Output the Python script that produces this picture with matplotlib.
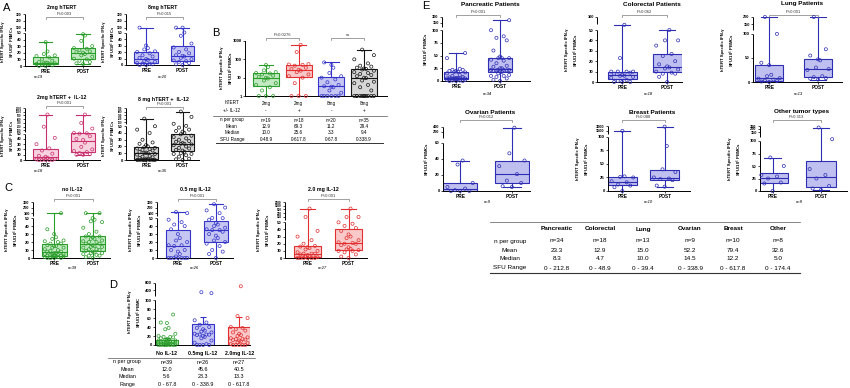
import numpy as np
import matplotlib.pyplot as plt
import matplotlib.transforms as mtransforms
from matplotlib.ticker import NullLocator

plt.rcParams['font.family'] = ['Liberation Sans', 'DejaVu Sans']
plt.rcParams['mathtext.fontset'] = 'custom'
plt.rcParams['mathtext.rm'] = 'Liberation Sans'
plt.rcParams['mathtext.bf'] = 'Liberation Sans:bold'

W, H = 850, 388

########################################################## data (SFU / 10^6 PBMCs)
# A: PRE / POST per arm
a_2mg_pre = [0, 0, 1, 2, 3, 3, 4, 4, 5, 5, 6, 8, 10, 13, 15, 16, 18, 22, 36]
a_2mg_post = [3, 4, 6, 8, 10, 11, 14, 16, 18, 20, 21, 22, 24, 26, 27, 30, 38, 46, 48]
a_8mg_pre = [0, 0, 1, 2, 2, 3, 5, 6, 8, 9, 11, 13, 15, 18, 20, 21, 24, 26, 30, 100]
a_8mg_post = [0, 1, 3, 5, 6, 7, 9, 11, 13, 14, 15, 18, 20, 24, 27, 33, 45, 50, 100, 100]
a_2mg_il12_pre = [0, 0, 0, 0, 0, 1, 2, 3, 4, 6, 8, 12, 18, 22, 30, 42, 200, 620]
a_2mg_il12_post = [10, 10, 11, 13, 15, 17, 20, 25, 33, 38, 40, 45, 50, 55, 60, 150, 300, 620]
a_8mg_il12_pre = [0, 0, 0, 0, 0, 0, 0, 0, 1, 2, 3, 4, 5, 6, 8, 9, 10, 10, 11, 12, 14, 15, 16, 17, 18,
                  19, 20, 22, 24, 26, 30, 40, 45, 50, 200]
a_8mg_il12_post = [0, 1, 2, 5, 7, 9, 9, 10, 12, 14, 15, 17, 18, 20, 22, 23, 24, 24, 25, 27, 28, 30, 32,
                   34, 36, 38, 40, 42, 43, 45, 48, 55, 80, 250, 400]

# B: response per arm (log axis, zeros drawn at 1)
b_2mg_nil = [0, 0, 0, 2, 3, 4, 5, 7, 9, 10, 11, 13, 15, 17, 18, 20, 25, 38, 48.9]
b_2mg_il12 = [0, 0, 0, 5, 10, 12, 15, 20, 24, 27, 30, 35, 45, 50, 52, 55, 250, 617.8]
b_8mg_nil = [0, 0, 0, 0, 0, 1, 1.5, 2, 3, 3.2, 3.4, 4, 5.6, 8, 10, 12, 18, 35, 50, 67.8]
b_8mg_il12 = [0, 0, 0, 0, 0, 0, 0, 0, 0, 0, 1, 2, 3, 4, 5, 6, 7, 9.4, 10, 12, 14, 16, 18, 20, 24, 28,
              30, 32, 35, 40, 45, 60, 100, 169, 338.9]
b_htert = ['2mg', '2mg', '8mg', '8mg']
b_il12 = ['-', '+', '-', '+']
b_n = ['n=19', 'n=18', 'n=20', 'n=35']
b_mean = ['12.9', '69.3', '11.2', '29.4']
b_median = ['10.0', '25.6', '3.3', '9.4']
b_range = ['0-48.9', '0-617.8', '0-67.8', '0-338.9']

# C: by IL-12 dose
c_05_pre = [0, 0, 0, 0, 0, 0, 0, 2, 5, 8, 10, 10, 15, 16, 16, 20, 22, 25, 30, 36, 40, 42, 45, 48, 100, 120]
c_05_post = [0, 5, 8, 10, 15, 18, 20, 22, 25, 28, 30, 33, 35, 35, 36, 38, 40, 42, 44, 48, 50, 52, 100,
             150, 200, 260]
c_20_pre = [0, 0, 0, 0, 0, 0, 1, 2, 3, 4, 5, 6, 6, 6, 8, 10, 12, 14, 15, 16, 17, 20, 25, 30, 38, 100, 620]
c_20_post = [0, 2, 5, 8, 10, 10, 11, 12, 13, 15, 18, 20, 20, 21, 22, 25, 28, 30, 33, 38, 42, 45, 48, 50,
             100, 100, 620]

# D
d_05mg = [0, 0, 0, 0, 2, 5, 10, 15, 18, 20, 22, 23, 23.3, 23.3, 25, 28, 30, 32, 35, 38, 40, 45, 50, 55,
          310, 338.9]
d_20mg = [0, 0, 0, 0, 0, 2, 4, 6, 8, 10, 11, 12, 13, 13.3, 15, 17, 20, 22, 25, 28, 32, 35, 38, 40, 60,
          64.4, 617.8]
d_labels = ['No IL-12', '0.5mg IL-12', '2.0mg IL-12']
d_n = ['n=39', 'n=26', 'n=27']
d_mean = ['12.0', '45.6', '40.5']
d_median = ['5.6', '23.3', '13.3']
d_range = ['0 - 67.8', '0 - 338.9', '0 - 617.8']

# E: by tumour type
e_panc_pre = [0, 0, 0, 1, 1, 2, 2, 3, 3, 4, 4, 5, 5, 5, 5, 5, 5, 6, 6, 7, 8, 10, 12, 15, 17, 18, 18, 20,
              20, 22, 22, 24, 45, 55]
e_panc_post = [0, 2, 5, 8, 10, 10, 12, 15, 18, 20, 20, 21, 21, 22, 22, 22, 22, 25, 25, 28, 30, 35, 40, 42,
               45, 45, 45, 48, 60, 80, 85, 88, 100, 212.8]
e_colo_pre = [0, 0, 0, 1, 2, 4, 5, 6, 6, 7, 8, 9, 10, 10, 10, 10, 23, 70]
e_colo_post = [0, 5, 8, 8, 9, 10, 12, 13, 14, 15, 17, 20, 25, 27, 35, 40, 40, 50]
e_lung_pre = [0, 1, 2, 3, 5, 7, 8, 12, 15, 35, 40, 100, 200]
e_lung_post = [5, 7, 8, 10, 12, 25, 27, 30, 45, 47, 55, 68, 200]
e_ovar_pre = [0, 0, 0, 1, 3, 5, 10, 33, 38]
e_ovar_post = [5, 6, 10, 13, 21, 31, 38, 47, 370]
e_brst_pre = [0, 7, 10, 12, 16, 18, 25, 26, 27, 1500]
e_brst_post = [8, 10, 20, 22, 23, 25, 35, 40, 83, 2800]
e_oth_pre = [0, 15, 17, 25, 29, 32, 50, 67]
e_oth_post = [2, 5, 10, 25, 32, 44, 110, 250]
e_cols = ['Pancreatic', 'Colorectal', 'Lung', 'Ovarian', 'Breast', 'Other']
e_n = ['n=34', 'n=18', 'n=13', 'n=9', 'n=10', 'n=8']
e_mean = ['23.3', '12.9', '15.0', '52.2', '79.4', '32.6']
e_median = ['8.3', '4.7', '10.0', '14.5', '12.2', '5.0']
e_range = ['0 - 212.8', '0 - 48.9', '0 - 39.4', '0 - 338.9', '0 - 617.8', '0 - 174.4']

# colours (edge, fill)
GREEN = ('#2a9d2a', '#c2e9c2')
BLUE = ('#3535c8', '#c6c6f3')
PINK = ('#c8306e', '#f9d2df')
GRAY = ('#151515', '#d6d6d6')
RED = ('#e03030', '#f9c9c9')
EBLUE = ('#2e2eb4', '#c0c0f0')

YLAB = 'hTERT Specific IFN-\u03b3\nSFU/10$^6$ PBMCs'

fig = plt.figure(figsize=(W / 100, H / 100), dpi=100)


def px_rect(l, t, r, b):
    return [l / W, 1 - b / H, (r - l) / W, (b - t) / H]


def fy(y):
    return 1 - y / H


def ftext(x, y, s, **kw):
    fig.text(x / W, fy(y), s, **kw)


def xfig(ax):
    return mtransforms.blended_transform_factory(ax.transData, fig.transFigure)


def jitter(vals, w):
    order = np.argsort(vals, kind='stable')
    pattern = np.array([0, -0.55, 0.55, -0.3, 0.3, -0.75, 0.75, -0.15, 0.15]) * w / 2
    off = np.empty(len(vals))
    off[order] = pattern[np.arange(len(vals)) % len(pattern)]
    return off


def broken_y(ax, low_max, low_ticks, up_ticks, gap, up_h, up_size=3.1):
    # piecewise linear y scale: lower part linear, upper part squeezed
    xp = [0.0, low_max] + list(up_ticks)
    if len(up_ticks) > 1:
        fp = [0.0, 1.0] + [1 + gap + up_h * i / (len(up_ticks) - 1) for i in range(len(up_ticks))]
    else:
        fp = [0.0, 1.0, 1 + gap]
    s = (fp[-1] - fp[-2]) / (xp[-1] - xp[-2])
    top = fp[-1]
    xp = np.array([-low_max] + xp + [xp[-1] * 10])
    fp = np.array([-1.0] + fp + [top + s * xp[-2] * 9])
    ax.set_yscale('function', functions=(lambda v: np.interp(v, xp, fp),
                                         lambda p: np.interp(p, fp, xp)))
    ax.set_ylim(0, up_ticks[-1])
    ticks = list(low_ticks) + list(up_ticks)
    ax.set_yticks(ticks)
    labs = ax.set_yticklabels([f'{t:g}' for t in ticks], fontsize=3.1, fontweight='bold')
    for lab in labs[len(low_ticks):]:
        lab.set_fontsize(up_size)
    ax.yaxis.set_minor_locator(NullLocator())
    ax.spines['left'].set_visible(False)
    kw = dict(transform=ax.transAxes, color='black', lw=0.7, clip_on=False, solid_capstyle='butt')
    ax.plot([0, 0], [0, 1 / top], **kw)
    ax.plot([0, 0], [(1 + gap * 0.45) / top, 1], **kw)


def style(ax, xlim):
    for s in ('top', 'right'):
        ax.spines[s].set_visible(False)
    ax.spines['bottom'].set_linewidth(0.7)
    ax.spines['left'].set_linewidth(0.7)
    ax.tick_params(length=1.6, width=0.5, pad=0.8, labelsize=3.1)
    ax.set_xlim(*xlim)
    ax.patch.set_alpha(0)


def boxes(ax, data, pos, width, colors, log=False):
    for p, vals, (edge, fill) in zip(pos, data, colors):
        v = np.array(vals, float)
        if log:
            v = np.clip(v, 1, None)
        bp = ax.boxplot([v], positions=[p], widths=width, whis=(0, 100), patch_artist=True,
                        showfliers=False, manage_ticks=False, capwidths=width * 0.55)
        for b in bp['boxes']:
            b.set(facecolor=fill, edgecolor=edge, linewidth=0.8)
        for k in ('whiskers', 'caps', 'medians'):
            for ln in bp[k]:
                ln.set(color=edge, linewidth=0.8)
        ax.scatter(p + jitter(v, width), v, s=5, facecolors='none', edgecolors=edge,
                   linewidths=0.5, clip_on=False, zorder=4)


def pre_post(ax, pre, post, color, xlim, width=0.65):
    boxes(ax, [pre, post], [1, 2], width, [color, color])
    style(ax, xlim)
    ax.set_xticks([1, 2])
    ax.set_xticklabels(['PRE', 'POST'], fontsize=3.4, fontweight='bold')


def bracket(ax, y, label, x1=1, x2=2, size=3.0):
    tr = xfig(ax)
    yy = fy(y)
    d = 1.8 / H
    ax.plot([x1, x1, x2, x2], [yy - d, yy, yy, yy - d], transform=tr, color='#7a7a7a', lw=0.5,
            clip_on=False)
    ax.text((x1 + x2) / 2, yy + 0.6 / H, label, transform=tr, ha='center', va='bottom',
            fontsize=size, color='#333333')


def ylab(x, y, s, size=3.1):
    ftext(x, y, s, rotation=90, ha='center', va='center', fontsize=size, fontweight='bold',
          multialignment='center', linespacing=1.3)


#################################################################### panel letters
for lab, x, y in [('A', 7, 8), ('B', 216, 33), ('C', 8, 188), ('D', 113, 285), ('E', 426, 6)]:
    ftext(x, y, lab, fontsize=8, ha='center', va='center')

#################################################################### A
A_XL = (0.45, 2.45)
ax = fig.add_axes(px_rect(25, 14, 100, 66))
pre_post(ax, a_2mg_pre, a_2mg_post, GREEN, A_XL)
broken_y(ax, 50, [0, 10, 20, 30, 40, 50], [100, 200, 300], 0.15, 0.42, 2.4)
bracket(ax, 17, 'P=0.003')
ftext(62, 7, '2mg hTERT', fontsize=3.8, fontweight='bold', ha='center', va='center')
ftext(38, 77, 'n=19', fontsize=3, style='italic', ha='center', va='center')
ylab(9, 42, YLAB, 2.9)

ax = fig.add_axes(px_rect(126, 14, 199, 65))
pre_post(ax, a_8mg_pre, a_8mg_post, BLUE, A_XL)
broken_y(ax, 50, [0, 10, 20, 30, 40, 50], [100, 200, 300], 0.15, 0.42, 2.4)
bracket(ax, 17, 'P=0.015')
ftext(163, 7, '8mg hTERT', fontsize=3.8, fontweight='bold', ha='center', va='center')
ftext(163, 77, 'n=20', fontsize=3, style='italic', ha='center', va='center')
ylab(110, 42, YLAB, 2.9)

ax = fig.add_axes(px_rect(25, 108, 100, 160))
pre_post(ax, a_2mg_il12_pre, a_2mg_il12_post, PINK, A_XL)
broken_y(ax, 50, [0, 10, 20, 30, 40, 50], [100, 200, 300, 400, 500, 1000, 2000], 0.12, 0.85, 1.9)
bracket(ax, 106, 'P<0.001')
ftext(62, 97, '2mg hTERT +  IL-12', fontsize=3.8, fontweight='bold', ha='center', va='center')
ftext(38, 171, 'n=18', fontsize=3, style='italic', ha='center', va='center')
ylab(9, 136, YLAB, 2.9)

ax = fig.add_axes(px_rect(126, 108, 199, 160))
pre_post(ax, a_8mg_il12_pre, a_8mg_il12_post, GRAY, A_XL)
broken_y(ax, 50, [0, 10, 20, 30, 40, 50], [100, 200, 300, 400, 500], 0.12, 0.42, 1.8)
bracket(ax, 107, 'P<0.001')
ftext(163, 99, '8 mg hTERT +  IL-12', fontsize=3.8, fontweight='bold', ha='center', va='center')
ftext(163, 171, 'n=35', fontsize=3, style='italic', ha='center', va='center')
ylab(110, 136, YLAB, 2.9)

#################################################################### B
ax = fig.add_axes(px_rect(245, 41, 387, 96))
ax.set_yscale('log')
boxes(ax, [b_2mg_nil, b_2mg_il12, b_8mg_nil, b_8mg_il12], [1, 2, 3, 4], 0.8,
      [GREEN, RED, BLUE, GRAY], log=True)
style(ax, (0.36, 4.7))
ax.set_ylim(1, 1000)
ax.set_yticks([1, 10, 100, 1000])
ax.set_yticklabels(['1', '10', '100', '1000'], fontsize=3.1, fontweight='bold')
ax.yaxis.set_minor_locator(NullLocator())
ax.set_xticks([])
bracket(ax, 38, 'P=0.0276', 1, 2)
bracket(ax, 38, 'ns', 3, 4)
ylab(228, 68, YLAB)
tr = xfig(ax)
ftext(232, 103, 'hTERT', fontsize=3.3, ha='center', va='center')
ftext(232, 111, '+/- IL-12', fontsize=3.3, ha='center', va='center')
for name, y in [('n per group', 120), ('Mean', 126.5), ('Median', 133), ('SFU Range', 139.5)]:
    ftext(232, y, name, fontsize=3.3, ha='center', va='center')
for row, y in [(b_htert, 103), (b_il12, 111), (b_n, 120), (b_mean, 126.5), (b_median, 133),
               (b_range, 139.5)]:
    for p, s in zip([1, 2, 3, 4], row):
        ax.text(p, fy(y), s, transform=tr, fontsize=3.3, ha='center', va='center')
fig.add_artist(plt.Line2D([213 / W, 387 / W], [fy(116), fy(116)], color='#555555', lw=0.5))
fig.add_artist(plt.Line2D([216 / W, 383 / W], [fy(143), fy(143)], color='#333333', lw=0.7))

#################################################################### C
C_XL = (0.45, 2.45)
c_sets = [
    ((33, 202, 110, 258), a_2mg_pre + a_8mg_pre, a_2mg_post + a_8mg_post, GREEN, [100, 200, 300],
     0.125, 0.28, 2.8, 'no IL-12', 72, 'n=39'),
    ((157, 202, 233, 258), c_05_pre, c_05_post, BLUE, [100, 200, 300], 0.125, 0.28, 2.8,
     '0.5 mg IL-12', 195, 'n=26'),
    ((285, 202, 367, 258), c_20_pre, c_20_post, RED, [100, 200, 500, 1000, 2000], 0.15, 0.42, 2.2,
     '2.0 mg IL-12', 323, 'n=27'),
]
for r, pre, post, col, up, gap, uh, usz, title, tx, nlab in c_sets:
    ax = fig.add_axes(px_rect(*r))
    pre_post(ax, pre, post, col, C_XL)
    broken_y(ax, 50, [0, 10, 20, 30, 40, 50], up, gap, uh, usz)
    bracket(ax, 199, 'P<0.001')
    ftext(tx, 189, title, fontsize=3.8, fontweight='bold', ha='center', va='center')
    ftext(tx, 268, nlab, fontsize=3, style='italic', ha='center', va='center')
    ylab(r[0] - 20, 230, YLAB)

#################################################################### D
d_groups = [b_2mg_nil + b_8mg_nil, d_05mg, d_20mg]
d_cols = [GREEN, BLUE, RED]
ax = fig.add_axes(px_rect(155, 283, 250, 345))
for p, vals, (edge, fill) in zip([1, 2, 3], d_groups, d_cols):
    v = np.array(vals, float)
    m = v.mean()
    sem = v.std(ddof=1) / np.sqrt(len(v))
    ax.bar(p, m, width=0.62, color=fill, edgecolor=edge, linewidth=0.8, zorder=2)
    ax.errorbar(p, m, yerr=[[0], [sem]], fmt='none', ecolor=edge, elinewidth=0.8, capsize=2,
                capthick=0.8, zorder=3)
    ax.scatter(p + jitter(v, 0.62), v, s=5, facecolors='none', edgecolors=edge, linewidths=0.5,
               clip_on=False, zorder=4)
style(ax, (0.67, 3.3))
broken_y(ax, 100, [0, 20, 40, 60, 80, 100], [400, 800], 0.22, 0.16, 3.1)
ax.set_xticks([1, 2, 3])
ax.set_xticklabels(d_labels, fontsize=3.8, fontweight='bold')
ax.tick_params(axis='x', length=0, pad=4)
ylab(136, 312, 'hTERT Specific IFN-\u03b3\nSFU/10$^6$ PBMC')
tr = xfig(ax)
for name, row, y in [('n per group', d_n, 362), ('Mean', d_mean, 369.5), ('Median', d_median, 377),
                     ('Range', d_range, 384.5)]:
    ftext(127, y, name, fontsize=3.9, ha='center', va='center')
    for p, s in zip([1, 2, 3], row):
        ax.text(p, fy(y), s, transform=tr, fontsize=3.9, ha='center', va='center')
fig.add_artist(plt.Line2D([108 / W, 255 / W], [fy(357.5), fy(357.5)], color='#555555', lw=0.5))
fig.add_artist(plt.Line2D([108 / W, 255 / W], [fy(387.5), fy(387.5)], color='#333333', lw=0.7))

#################################################################### E
e_sets = [
    ((442, 17, 530, 81), e_panc_pre, e_panc_post, (0.68, 2.68), 0.55, 100, [0, 25, 50, 75, 100],
     [150, 300], 0.15, 0.11, 'Pancreatic Patients', 490, 4, 'P<0.001', 15, 'n=34', 94),
    ((597, 17, 682, 82), e_colo_pre, e_colo_post, (0.44, 2.33), 0.65, 50, [0, 10, 20, 30, 40, 50],
     [100], 0.25, 0, 'Colorectal Patients', 652, 4, 'P=0.062', 15, 'n=18', 94),
    ((753, 17, 842, 82), e_lung_pre, e_lung_post, (0.67, 2.49), 0.58, 100, [0, 50, 100],
     [150, 200], 0.2, 0.15, 'Lung Patients', 802, 4, 'P<0.001', 15, 'n=13', 94),
    ((443, 127, 530, 191), e_ovar_pre, e_ovar_post, (0.67, 2.35), 0.65, 60, [0, 20, 40, 60],
     [200, 400], 0.23, 0.1, 'Ovarian Patients', 490, 112, 'P=0.012', 120, 'n=9', 202),
    ((608, 126, 690, 191), e_brst_pre, e_brst_post, (0.66, 2.6), 0.68, 100, [0, 25, 50, 75, 100],
     [1500, 3000], 0.11, 0.09, 'Breast Patients', 652, 112, 'P=0.088', 120, 'n=10', 202),
    ((760, 126, 847, 191), e_oth_pre, e_oth_post, (0.74, 2.54), 0.62, 100, [0, 25, 50, 75, 100],
     [150, 200, 300], 0.18, 0.12, 'Other tumor types', 802, 112, 'P=0.313', 120, 'n=8', 202),
]
for i, (r, pre, post, xl, bw, lmax, lt, up, gap, uh, title, tx, ty, pv, py, nlab, ny) in \
        enumerate(e_sets):
    ax = fig.add_axes(px_rect(*r))
    pre_post(ax, pre, post, EBLUE, xl, bw)
    broken_y(ax, lmax, lt, up, gap, uh, 2.8)
    bracket(ax, py, pv)
    ftext(tx, ty, title, fontsize=4.6, fontweight='bold', ha='center', va='center')
    ftext(tx - 3, ny, nlab, fontsize=3, style='italic', ha='center', va='center')
    yc = (r[1] + r[3]) / 2
    if i % 3 == 0:
        ylab(r[0] - 16, yc, 'SFU/10$^6$ PBMCs')
    else:
        ylab(r[0] - 24, yc, YLAB)

# table under E
e_xs = [557, 600, 643, 690, 733, 778]
fig.add_artist(plt.Line2D([490 / W, 800 / W], [fy(222), fy(222)], color='#555555', lw=0.5))
fig.add_artist(plt.Line2D([490 / W, 800 / W], [fy(272.5), fy(272.5)], color='#333333', lw=0.8))
for x, s in zip(e_xs, e_cols):
    ftext(x, 229, s, fontsize=4.6, fontweight='bold', ha='center', va='center')
for name, row, y in [('n per group', e_n, 241), ('Mean', e_mean, 250), ('Median', e_median, 259),
                     ('SFU Range', e_range, 268)]:
    ftext(510, y, name, fontsize=4.6, ha='center', va='center')
    for x, s in zip(e_xs, row):
        ftext(x, y, s, fontsize=4.6, ha='center', va='center')

fig.savefig('out.png', dpi=100)
